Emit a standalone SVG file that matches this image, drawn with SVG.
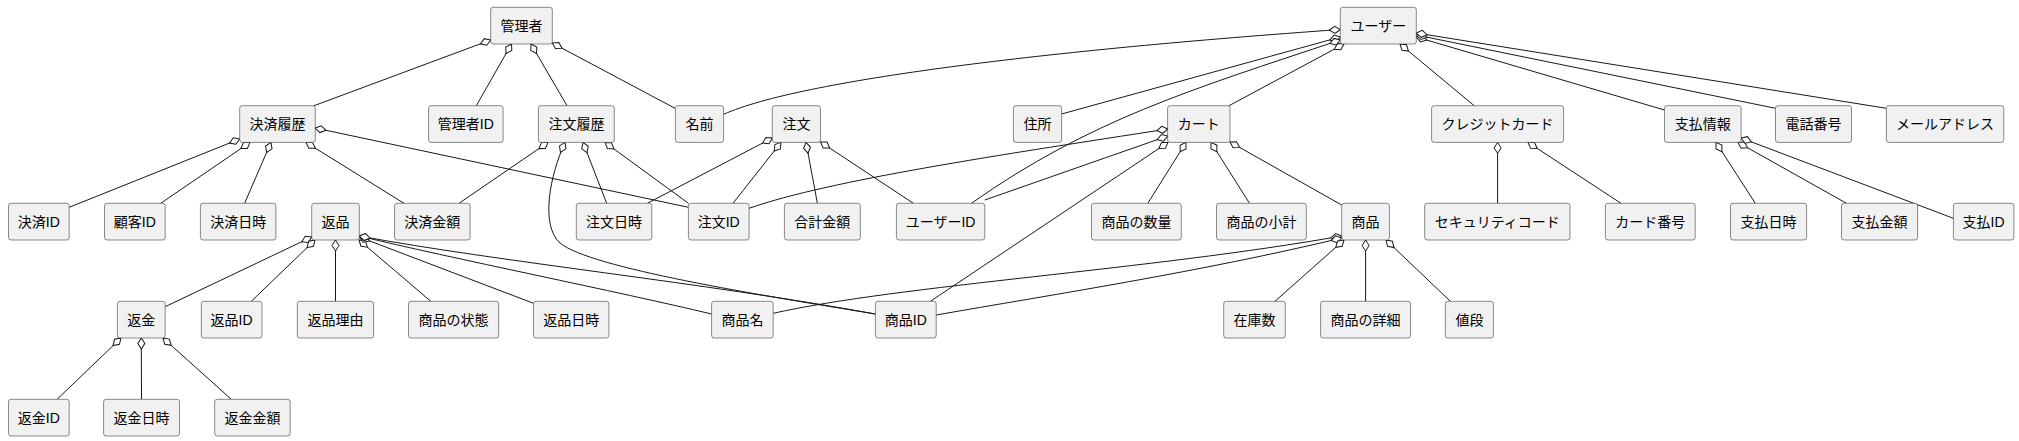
<svg xmlns="http://www.w3.org/2000/svg" width="2019" height="441" viewBox="0 0 2019 441">
<style>
.n rect{fill:#F1F1F1;stroke:#181818;stroke-width:0.5}
.n text{font-family:"Liberation Sans","Noto Sans CJK JP",sans-serif;font-size:14px;fill:#000;text-anchor:middle}
#edges path{fill:none;stroke:#181818;stroke-width:1;marker-start:url(#dia)}
</style>
<defs>
<marker id="dia" viewBox="-1 -5 14 10" markerWidth="14" markerHeight="10" refX="0" refY="0" orient="auto" markerUnits="userSpaceOnUse" overflow="visible">
<path d="M0,0 L5.5,-3.5 L11,0 L5.5,3.5 Z" fill="#FFFFFF" stroke="#181818" stroke-width="1"/>
</marker>
</defs>
<rect x="0" y="0" width="2019" height="441" fill="#FFFFFF"/>
<g id="edges">
<path d="M490.7,40 L314,105.7"/>
<path d="M511.5,44 L476.3,105.7"/>
<path d="M531,44 L567,105.7"/>
<path d="M552.3,43 L675.4,108.5"/>
<path d="M239.7,139 L69.2,207.3"/>
<path d="M250,142.4 L160.7,203.3"/>
<path d="M271,142.4 L244.6,203.3"/>
<path d="M306,142.4 L404,203.3"/>
<path d="M315.2,128 L688.4,207.3"/>
<path d="M548,142.4 L459,203.3"/>
<path d="M565,142.4 C550,175 540,225 560,243 C590,268 760,295 875.4,314"/>
<path d="M583,142.4 L606.7,203.3"/>
<path d="M605,142.4 L688.4,203.3"/>
<path d="M772.3,138 L647.3,203.3"/>
<path d="M781,142.4 L733,203.3"/>
<path d="M806,142.4 L817.4,203.3"/>
<path d="M820.5,142 L913.4,203.3"/>
<path d="M1340.3,29.5 C1050,50 800,80 723.7,114.3"/>
<path d="M1340.3,37 L1061.6,114"/>
<path d="M1340.3,40 C1190,90 1090,120 971.4,203.3"/>
<path d="M1344,44 L1229,105.7"/>
<path d="M1400,44 L1474.2,105.7"/>
<path d="M1416.3,37 L1664.5,110"/>
<path d="M1416.3,35 L1775.5,108.3"/>
<path d="M1416.3,33 L1886.4,108.3"/>
<path d="M1167.7,129 C1000,155 830,180 749,208.3"/>
<path d="M1167.7,136 L984.8,200"/>
<path d="M1168,142.4 L930.4,301.3"/>
<path d="M1186,142.4 L1147.8,203.3"/>
<path d="M1211,142.4 L1249.5,203.3"/>
<path d="M1230,142 L1341.7,205"/>
<path d="M1497.6,142.4 L1497.6,203.3"/>
<path d="M1528,142.4 L1621,203.3"/>
<path d="M1716,142.4 L1755.3,203.3"/>
<path d="M1738,142.4 L1846.5,203.3"/>
<path d="M1741.1,138 L1953.4,218.3"/>
<path d="M1341.7,236 C1150,270 900,285 773.2,313.3"/>
<path d="M1341.7,238 C1200,272 1050,295 936.2,315"/>
<path d="M1344,240 L1275,301.3"/>
<path d="M1365.6,240 L1365.6,301.3"/>
<path d="M1386,240 L1450.4,301.3"/>
<path d="M311.7,237 L165.2,306.7"/>
<path d="M315,240 L251.3,301.3"/>
<path d="M335.5,240 L335.5,301.3"/>
<path d="M359,240 L430.8,301.3"/>
<path d="M359.3,237 L533.5,303.3"/>
<path d="M359.3,236 C450,258 620,292 711.6,314"/>
<path d="M359.3,236 C500,262 700,282 875.4,314"/>
<path d="M121,338 L57.1,399.3"/>
<path d="M141.3,338 L141.5,399.3"/>
<path d="M163,338 L231.3,399.3"/>
</g>
<g id="kanrisha" class="n"><rect x="490.7" y="7.3" width="61.6" height="36.7" rx="2.5"/><text x="521.5" y="30.6">管理者</text></g>
<g id="user" class="n"><rect x="1340.3" y="7.3" width="76" height="36.7" rx="2.5"/><text x="1378.3" y="30.6">ユーザー</text></g>
<g id="kessai_rireki" class="n"><rect x="239.7" y="105.7" width="75.6" height="36.7" rx="2.5"/><text x="277.5" y="129">決済履歴</text></g>
<g id="kanrisha_id" class="n"><rect x="428.6" y="105.7" width="74.5" height="36.7" rx="2.5"/><text x="465.8" y="129">管理者ID</text></g>
<g id="chumon_rireki" class="n"><rect x="538.4" y="105.7" width="75.9" height="36.7" rx="2.5"/><text x="576.4" y="129">注文履歴</text></g>
<g id="namae" class="n"><rect x="675.4" y="105.7" width="48.2" height="36.7" rx="2.5"/><text x="699.5" y="129">名前</text></g>
<g id="chumon" class="n"><rect x="772.3" y="105.7" width="48.2" height="36.7" rx="2.5"/><text x="796.4" y="129">注文</text></g>
<g id="jusho" class="n"><rect x="1013.4" y="105.7" width="48.2" height="36.7" rx="2.5"/><text x="1037.5" y="129">住所</text></g>
<g id="cart" class="n"><rect x="1167.6" y="105.7" width="62.4" height="36.7" rx="2.5"/><text x="1198.8" y="129">カート</text></g>
<g id="credit" class="n"><rect x="1431.6" y="105.7" width="132" height="36.7" rx="2.5"/><text x="1497.6" y="129">クレジットカード</text></g>
<g id="shiharai" class="n"><rect x="1664.5" y="105.7" width="76.6" height="36.7" rx="2.5"/><text x="1702.8" y="129">支払情報</text></g>
<g id="denwa" class="n"><rect x="1775.5" y="105.7" width="76" height="36.7" rx="2.5"/><text x="1813.5" y="129">電話番号</text></g>
<g id="mail" class="n"><rect x="1886.4" y="105.7" width="117.4" height="36.7" rx="2.5"/><text x="1945.1" y="129">メールアドレス</text></g>
<g id="kessai_id" class="n"><rect x="8.5" y="203.3" width="60.7" height="36.7" rx="2.5"/><text x="38.8" y="226.6">決済ID</text></g>
<g id="kokyaku_id" class="n"><rect x="104.5" y="203.3" width="60.7" height="36.7" rx="2.5"/><text x="134.8" y="226.6">顧客ID</text></g>
<g id="kessai_nichiji" class="n"><rect x="200.4" y="203.3" width="75.5" height="36.7" rx="2.5"/><text x="238.2" y="226.6">決済日時</text></g>
<g id="henpin" class="n"><rect x="311.7" y="203.3" width="47.6" height="36.7" rx="2.5"/><text x="335.5" y="226.6">返品</text></g>
<g id="kessai_kingaku" class="n"><rect x="394.6" y="203.3" width="75.5" height="36.7" rx="2.5"/><text x="432.3" y="226.6">決済金額</text></g>
<g id="chumon_nichiji" class="n"><rect x="576.3" y="203.3" width="75.5" height="36.7" rx="2.5"/><text x="614" y="226.6">注文日時</text></g>
<g id="chumon_id" class="n"><rect x="688.4" y="203.3" width="60.7" height="36.7" rx="2.5"/><text x="718.7" y="226.6">注文ID</text></g>
<g id="gokei" class="n"><rect x="784.4" y="203.3" width="75.9" height="36.7" rx="2.5"/><text x="822.3" y="226.6">合計金額</text></g>
<g id="user_id" class="n"><rect x="896.4" y="203.3" width="88.4" height="36.7" rx="2.5"/><text x="940.6" y="226.6">ユーザーID</text></g>
<g id="suryo" class="n"><rect x="1091.5" y="203.3" width="89.8" height="36.7" rx="2.5"/><text x="1136.4" y="226.6">商品の数量</text></g>
<g id="shokei" class="n"><rect x="1216.5" y="203.3" width="89.8" height="36.7" rx="2.5"/><text x="1261.4" y="226.6">商品の小計</text></g>
<g id="shohin" class="n"><rect x="1341.7" y="203.3" width="47.7" height="36.7" rx="2.5"/><text x="1365.5" y="226.6">商品</text></g>
<g id="security" class="n"><rect x="1424.7" y="203.3" width="145.3" height="36.7" rx="2.5"/><text x="1497.3" y="226.6">セキュリティコード</text></g>
<g id="card_no" class="n"><rect x="1605.4" y="203.3" width="89.8" height="36.7" rx="2.5"/><text x="1650.3" y="226.6">カード番号</text></g>
<g id="shiharai_nichiji" class="n"><rect x="1730.5" y="203.3" width="76.1" height="36.7" rx="2.5"/><text x="1768.5" y="226.6">支払日時</text></g>
<g id="shiharai_kingaku" class="n"><rect x="1841.5" y="203.3" width="76.1" height="36.7" rx="2.5"/><text x="1879.5" y="226.6">支払金額</text></g>
<g id="shiharai_id" class="n"><rect x="1953.4" y="203.3" width="60.5" height="36.7" rx="2.5"/><text x="1983.6" y="226.6">支払ID</text></g>
<g id="henkin" class="n"><rect x="117.4" y="301.3" width="47.8" height="36.7" rx="2.5"/><text x="141.3" y="324.6">返金</text></g>
<g id="henpin_id" class="n"><rect x="201.3" y="301.3" width="60.7" height="36.7" rx="2.5"/><text x="231.6" y="324.6">返品ID</text></g>
<g id="henpin_riyu" class="n"><rect x="297.3" y="301.3" width="76.3" height="36.7" rx="2.5"/><text x="335.5" y="324.6">返品理由</text></g>
<g id="jotai" class="n"><rect x="408.5" y="301.3" width="90.2" height="36.7" rx="2.5"/><text x="453.6" y="324.6">商品の状態</text></g>
<g id="henpin_nichiji" class="n"><rect x="533.5" y="301.3" width="75.4" height="36.7" rx="2.5"/><text x="571.2" y="324.6">返品日時</text></g>
<g id="shohin_mei" class="n"><rect x="711.6" y="301.3" width="61.6" height="36.7" rx="2.5"/><text x="742.4" y="324.6">商品名</text></g>
<g id="shohin_id" class="n"><rect x="875.4" y="301.3" width="60.8" height="36.7" rx="2.5"/><text x="905.8" y="324.6">商品ID</text></g>
<g id="zaiko" class="n"><rect x="1223.7" y="301.3" width="61.6" height="36.7" rx="2.5"/><text x="1254.5" y="324.6">在庫数</text></g>
<g id="shosai" class="n"><rect x="1320.6" y="301.3" width="89.9" height="36.7" rx="2.5"/><text x="1365.5" y="324.6">商品の詳細</text></g>
<g id="nedan" class="n"><rect x="1445.3" y="301.3" width="48.1" height="36.7" rx="2.5"/><text x="1469.4" y="324.6">値段</text></g>
<g id="henkin_id" class="n"><rect x="8.5" y="399.3" width="60.7" height="36.7" rx="2.5"/><text x="38.8" y="422.6">返金ID</text></g>
<g id="henkin_nichiji" class="n"><rect x="103.6" y="399.3" width="75.9" height="36.7" rx="2.5"/><text x="141.5" y="422.6">返金日時</text></g>
<g id="henkin_kingaku" class="n"><rect x="214.7" y="399.3" width="75.5" height="36.7" rx="2.5"/><text x="252.4" y="422.6">返金金額</text></g>
</svg>
